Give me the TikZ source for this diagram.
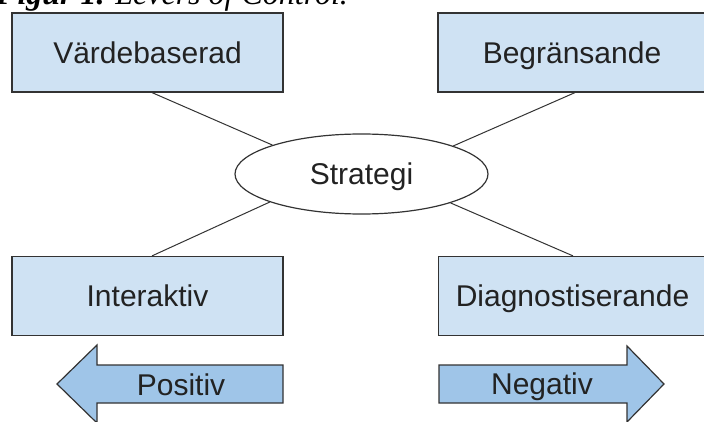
\documentclass[tikz,border=0pt]{standalone}
\usepackage{fontspec}
\setmainfont{Liberation Sans}
\newfontfamily\capfont{Liberation Serif}
\usetikzlibrary{shapes.geometric}
\definecolor{boxfill}{HTML}{CFE2F3}
\definecolor{arrowfill}{HTML}{9FC5E8}
\definecolor{edge}{HTML}{333333}
\definecolor{txt}{HTML}{222222}
\tikzset{
  lever/.style={draw=edge, line width=1.2pt, fill=boxfill, rectangle, inner sep=0pt,
    minimum height=79pt, text=txt, font=\fontsize{30}{36}\selectfont,
    text height=21.5pt, text depth=0pt},
  link/.style={draw=edge, line width=1pt},
  bigarrow/.style={draw=edge, line width=1.2pt, fill=arrowfill, line join=miter},
  arrowtext/.style={anchor=base, inner sep=0pt, text=txt, font=\fontsize{30}{36}\selectfont}
}
\begin{document}
\begin{tikzpicture}[x=1pt, y=-1pt]
\clip (0,0) rectangle (704,422);
\fill[white] (0,0) rectangle (704,422);
% caption (cut off at top)
\node[anchor=base west, inner sep=0pt, font=\fontsize{32}{38}\selectfont\capfont] (cap) at (-4,5)
  {\textbf{\textit{Figur 1.}} \textit{Levers of Control.}};
% boxes
\node[lever, minimum width=271pt] (vb) at (147.5,52.5) {Värdebaserad};
\node[lever, minimum width=268pt] (bg) at (572,52.5) {Begränsande};
\node[lever, minimum width=271pt] (ia) at (147.5,296) {Interaktiv};
\node[lever, minimum width=268pt] (dg) at (572.5,296) {Diagnostiserande};
% centre ellipse
\node[ellipse, draw=edge, line width=1.2pt, fill=white, minimum width=253pt, minimum height=80pt,
  inner sep=0pt, text=txt, font=\fontsize{30}{36}\selectfont, text height=21.5pt, text depth=0pt] (st) at (361.5,174) {Strategi};
% connectors
\draw[link] ([xshift=4.5pt]vb.south) -- (st.162.6);
\draw[link] ([xshift=3pt]bg.south) -- (st.17.2);
\draw[link] (st.197.9) -- ([xshift=4.5pt]ia.north);
\draw[link] (st.342.2) -- ([xshift=0.5pt]dg.north);
% big arrows
\draw[bigarrow] (283,365) -- (97,365) -- (97,345) -- (57,384) -- (97,423) -- (97,403) -- (283,403) -- cycle;
\node[arrowtext] (pos) at (181,395) {Positiv};
\draw[bigarrow] (439,365) -- (627,365) -- (627,346) -- (664,384) -- (627,422) -- (627,403) -- (439,403) -- cycle;
\node[arrowtext] (neg) at (542,394) {Negativ};
\end{tikzpicture}
\end{document}
